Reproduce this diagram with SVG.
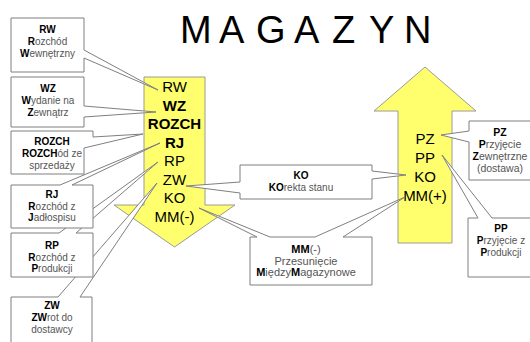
<svg xmlns="http://www.w3.org/2000/svg" width="530" height="342" viewBox="0 0 530 342">
<style>
text{font-family:"Liberation Sans",Arial,sans-serif}
.arrow{fill:#FFFF6E;stroke:#9a9a9a;stroke-width:1}
.call{fill:#fff;stroke:#7f7f7f;stroke-width:1;stroke-linejoin:miter}
.at{font-size:15px;fill:#000;text-anchor:middle}
.atb{font-size:15px;fill:#000;text-anchor:middle;font-weight:bold}
.s{font-size:10px;fill:#555;text-anchor:middle}
.k{font-weight:bold;fill:#000}
.title{font-size:38px;fill:#000}
</style>
<rect width="530" height="342" fill="#fff"/>
<g id="title"><text class="title" x="180 219 256 294 332 369 404" y="43">MAGAZYN</text></g>

<g id="arrow-out">
<path class="arrow" d="M144,77 H205 V205 H235 L174.5,247 L114,205 H144 Z"/>
<text class="at" x="174.5" y="92">RW</text>
<text class="atb" x="174.5" y="110.5">WZ</text>
<text class="atb" x="174.5" y="129">ROZCH</text>
<text class="atb" x="174.5" y="147.5">RJ</text>
<text class="at" x="174.5" y="166">RP</text>
<text class="at" x="174.5" y="184.5">ZW</text>
<text class="at" x="174.5" y="203">KO</text>
<text class="at" x="174.5" y="221.5">MM(-)</text>
</g>

<g id="arrow-in">
<path class="arrow" d="M425,67 L476,111 H452 V243 H398 V111 H374 Z"/>
<text class="at" x="425" y="143.5">PZ</text>
<text class="at" x="425" y="162.5">PP</text>
<text class="at" x="425" y="181.5">KO</text>
<text class="at" x="425" y="200.5">MM(+)</text>
</g>

<g id="connectors"></g>

<g id="callout-zw">
<path class="call" d="M11,297 H58 L157,183 L80,297 H92 V350 H11 Z"/>
<text class="s" x="52" y="308.5"><tspan class="k">ZW</tspan></text>
<text class="s" x="52" y="321"><tspan class="k">ZW</tspan>rot do</text>
<text class="s" x="52" y="333">dostawcy</text>
</g>

<g id="callout-rp">
<path class="call" d="M11,233 H59 L158,162 L76,233 H93 V277 H11 Z"/>
<text class="s" x="52" y="248.5"><tspan class="k">RP</tspan></text>
<text class="s" x="52" y="260.5"><tspan class="k">R</tspan>ozchód z</text>
<text class="s" x="52" y="272"><tspan class="k">P</tspan>rodukcji</text>
</g>

<g id="callout-rj">
<path class="call" d="M11,185 H60 L160,143 L72,185 H93 V228 H11 Z"/>
<text class="s" x="52" y="197.5"><tspan class="k">RJ</tspan></text>
<text class="s" x="52" y="209.5"><tspan class="k">R</tspan>ozchód z</text>
<text class="s" x="52" y="221"><tspan class="k">J</tspan>adłospisu</text>
</g>

<g id="callout-rozch">
<path class="call" d="M11,131 H93 V137 L143,134 L84,148 V174 H11 Z"/>
<text class="s" x="52" y="144.5"><tspan class="k">ROZCH</tspan></text>
<text class="s" x="52" y="157"><tspan class="k">ROZCH</tspan>ód ze</text>
<text class="s" x="52" y="169">sprzedaży</text>
</g>

<g id="callout-wz">
<path class="call" d="M11,77 H84 V106 L156,112 L84,117 V127 H11 Z"/>
<text class="s" x="48" y="92"><tspan class="k">WZ</tspan></text>
<text class="s" x="48" y="104"><tspan class="k">W</tspan>ydanie na</text>
<text class="s" x="48" y="115.5"><tspan class="k">Z</tspan>ewnątrz</text>
</g>

<g id="callout-rw">
<path class="call" d="M11,18 H84 V50 L158,90 L84,58 V72 H11 Z"/>
<text class="s" x="47.5" y="33"><tspan class="k">RW</tspan></text>
<text class="s" x="47.5" y="45"><tspan class="k">R</tspan>ozchód</text>
<text class="s" x="47.5" y="57"><tspan class="k">W</tspan>ewnętrzny</text>
</g>

<g id="callout-ko">
<path class="call" d="M240,165 H372 V171 L406,175 L372,179 V199 H240 V193 L186,186 L240,182 Z"/>
<text class="s" x="301" y="178.5"><tspan class="k">KO</tspan></text>
<text class="s" x="301" y="190.5"><tspan class="k">KO</tspan>rekta stanu</text>
</g>

<g id="callout-mm">
<path class="call" d="M250,237 H257 L199,208 L270,237 H315 L405,197 L343,237 H372 V285 H250 Z"/>
<text class="s" x="306" y="253" style="font-size:11px"><tspan class="k">MM</tspan>(-)</text>
<text class="s" x="306" y="264.5" style="font-size:11px">Przesunięcie</text>
<text class="s" x="306" y="276" style="font-size:11px"><tspan class="k">M</tspan>iędzy<tspan class="k">M</tspan>agazynowe</text>
</g>

<g id="callout-pz">
<path class="call" d="M469,121 H533 V180 H469 V142 L441,135 L469,131 Z"/>
<text class="s" x="500" y="135.5" style="font-size:10.5px"><tspan class="k">PZ</tspan></text>
<text class="s" x="500" y="147.5" style="font-size:10.5px"><tspan class="k">P</tspan>rzyjęcie</text>
<text class="s" x="500" y="159.5" style="font-size:10.5px"><tspan class="k">Z</tspan>ewnętrzne</text>
<text class="s" x="500" y="171.5" style="font-size:10.5px">(dostawa)</text>
</g>

<g id="callout-pp">
<path class="call" d="M468,218 H478 L442,155 L492,218 H533 V277 H468 Z"/>
<text class="s" x="501" y="231.5"><tspan class="k">PP</tspan></text>
<text class="s" x="501" y="243.5"><tspan class="k">P</tspan>rzyjęcie z</text>
<text class="s" x="501" y="255.5"><tspan class="k">P</tspan>rodukcji</text>
</g>
</svg>
